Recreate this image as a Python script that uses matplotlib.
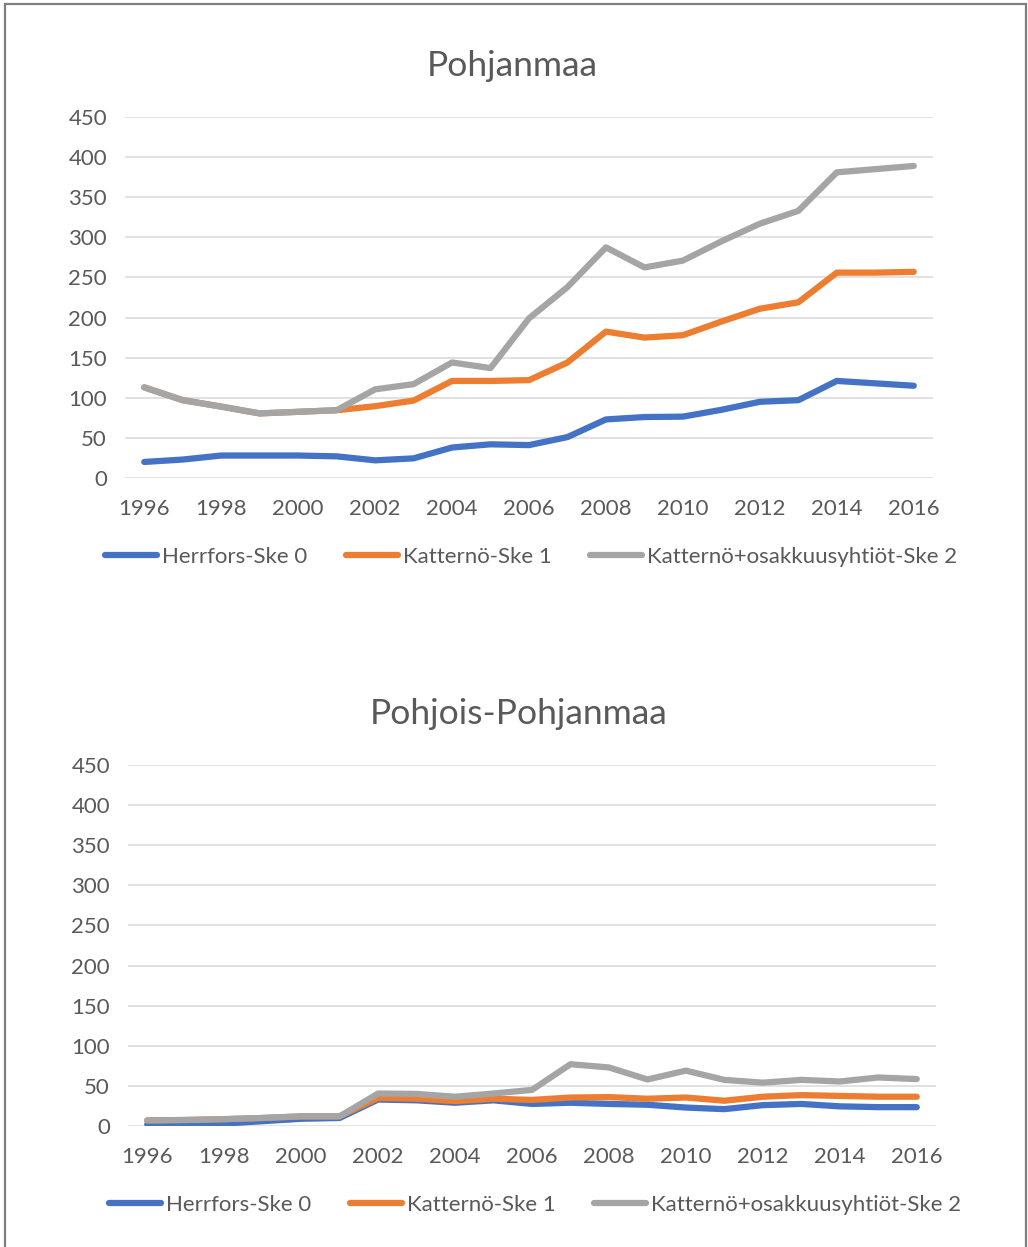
import matplotlib.pyplot as plt
from matplotlib.patches import Rectangle

# data
years = list(range(1996, 2017))

pohjanmaa_herrfors = [20, 23, 28, 28, 28, 27, 22, 24.5, 38, 42, 41, 51, 73, 76, 76.5, 85, 95, 97, 121, 118, 115]
pohjanmaa_katterno = [113, 97, 89, 80.5, 82.5, 84.5, 89.5, 96.5, 121, 121, 122, 144, 182.5, 175, 178, 195, 211, 219, 256, 256, 257]
pohjanmaa_osakk = [113, 97, 89, 80.5, 82.5, 84.5, 110.5, 117, 144, 137, 199, 238, 287.5, 262.5, 271, 295, 317, 333, 381, 385, 389]

pp_herrfors = [2, 2.5, 3, 6, 9, 10, 33, 32, 29, 32, 27.5, 29, 27.5, 26.5, 23, 21, 26, 27.5, 24.5, 23.5, 23.5]
pp_katterno = [7, 7.5, 8.5, 10, 12, 12, 35, 34, 31, 34, 32.5, 35.5, 36, 34, 35.5, 31.5, 36.5, 38.5, 37.5, 36.5, 36.5]
pp_osakk = [7, 7.5, 8.5, 10, 12, 12, 40.5, 40, 36.5, 40.5, 45, 77, 73, 58, 69, 57.5, 54, 57.5, 55.5, 60.5, 58.5]

series_names = ['Herrfors-Ske 0', 'Katternö-Ske 1', 'Katternö+osakkuusyhtiöt-Ske 2']
colors = ['#4472C4', '#ED7D31', '#A5A5A5']
yticks = [0, 50, 100, 150, 200, 250, 300, 350, 400, 450]
xticks = list(range(1996, 2017, 2))

W, H = 1028, 1247
TXT = '#595959'
plt.rcParams['font.family'] = ['Lato', 'DejaVu Sans']

fig = plt.figure(figsize=(W / 100, H / 100), dpi=100)

# outer frame (bottom edge runs off the image)
fig.patches.append(Rectangle((5 / W, -0.05), 1021 / W, 1.05 - 4 / H, transform=fig.transFigure,
                             fill=False, edgecolor='#7F7F7F', linewidth=1.6))


def box(left, top, right, bottom):
    return [left / W, 1 - bottom / H, (right - left) / W, (bottom - top) / H]


def draw_chart(rect, title, title_xy, series, legend_xy):
    ax = fig.add_axes(box(*rect))
    for vals, name, c in zip(series, series_names, colors):
        ax.plot(years, vals, color=c, lw=4.5, solid_capstyle='round', solid_joinstyle='round', label=name)
    ax.set_xlim(1995.5, 2016.5)
    ax.set_ylim(0, 450)
    ax.set_yticks(yticks)
    ax.set_xticks(xticks)
    ax.grid(axis='y', color='#D9D9D9', lw=1.1)
    ax.set_axisbelow(True)
    for s in ax.spines.values():
        s.set_visible(False)
    ax.tick_params(axis='y', length=0, pad=13, labelsize=16, labelcolor=TXT)
    ax.tick_params(axis='x', length=0, pad=15, labelsize=16, labelcolor=TXT)
    fig.text(title_xy[0] / W, 1 - title_xy[1] / H, title, ha='center', va='center',
             fontsize=25.5, color=TXT)
    leg = ax.legend(loc='center', bbox_to_anchor=(legend_xy[0] / W, 1 - legend_xy[1] / H),
                    bbox_transform=fig.transFigure, ncol=3, frameon=False, fontsize=16,
                    handlelength=2.35, handletextpad=0.2, columnspacing=1.75, borderpad=0)
    for t in leg.get_texts():
        t.set_color(TXT)
    return ax


draw_chart((125, 117, 933, 478), 'Pohjanmaa', (512, 66),
           [pohjanmaa_herrfors, pohjanmaa_katterno, pohjanmaa_osakk], (531, 557))
draw_chart((128, 765, 936, 1126), 'Pohjois-Pohjanmaa', (519, 714),
           [pp_herrfors, pp_katterno, pp_osakk], (535, 1205))

fig.savefig('out.png', dpi=100)
